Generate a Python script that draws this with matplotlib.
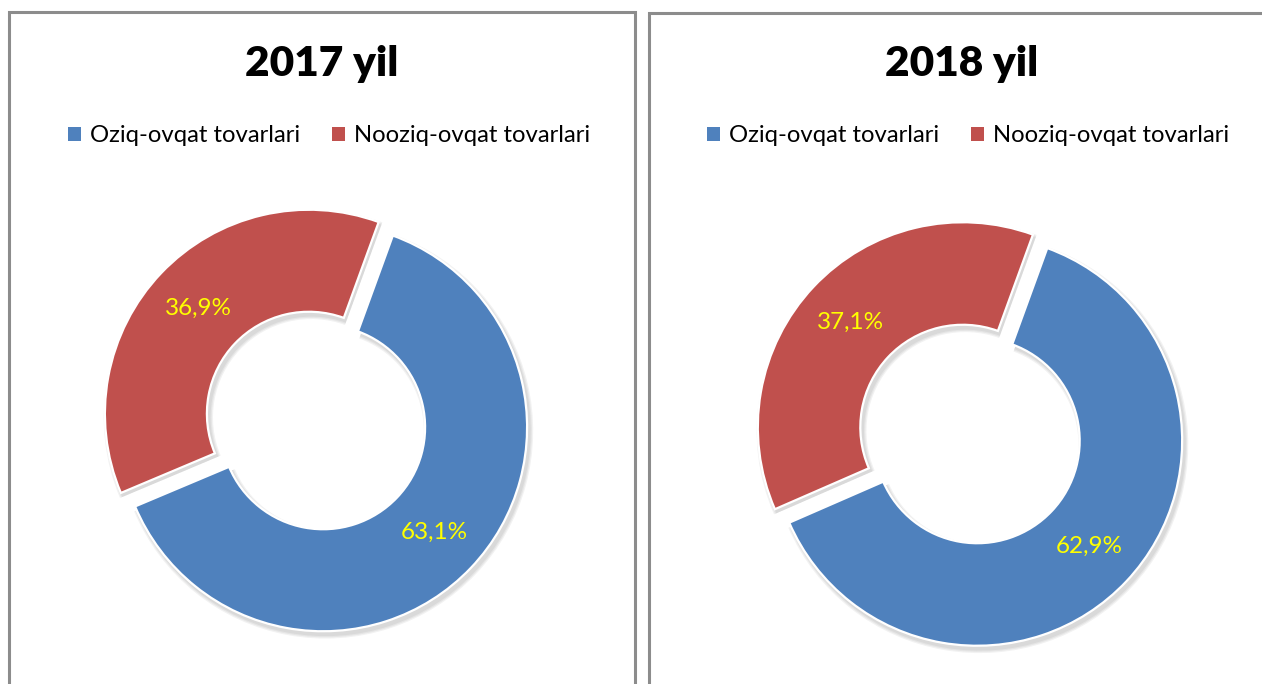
import matplotlib
matplotlib.use("Agg")
import matplotlib.pyplot as plt
from matplotlib.patches import Rectangle, Patch

# ---- data ----
years = ["2017 yil", "2018 yil"]
categories = ["Oziq-ovqat tovarlari", "Nooziq-ovqat tovarlari"]
values_2017 = [63.1, 36.9]
values_2018 = [62.9, 37.1]
colors = ["#4F81BD", "#C0504D"]

W, H = 1262, 684
fig = plt.figure(figsize=(W / 100, H / 100), dpi=100)
fig.patch.set_facecolor("white")
FONT = "Lato"


def fx(x):
    return x / W


def fy(y):
    return 1 - y / H


# panel borders
for (x0, y0, x1) in [(9, 12, 635), (649, 13, 1300)]:
    fig.patches.append(Rectangle((fx(x0), fy(760)), fx(x1 - x0), (760 - y0) / H,
                                 transform=fig.transFigure, fill=False,
                                 edgecolor="#8C8C8C", linewidth=2.2, zorder=0))

panels = [
    dict(title=years[0], vals=values_2017, cx=316, cy=420.5, R=204, tcx=322, lcx=329),
    dict(title=years[1], vals=values_2018, cx=970, cy=434, R=205, tcx=962, lcx=968),
]

for p in panels:
    half = 1.3 * p["R"]
    ax = fig.add_axes([fx(p["cx"] - half), fy(p["cy"] + half), 2 * half / W, 2 * half / H])
    # soft shadow
    for k, a in enumerate([0.05, 0.05, 0.05]):
        ax.pie(p["vals"], radius=1.0 + 0.006 * (k + 1), startangle=70, counterclock=False,
               explode=[0.048, 0.048], center=(0.012, -0.018),
               colors=["#000000", "#000000"],
               wedgeprops=dict(width=0.5 + 0.012 * (k + 1), linewidth=0, alpha=a))
    wedges, texts, autotexts = ax.pie(
        p["vals"], radius=1.0, startangle=70, counterclock=False,
        explode=[0.048, 0.048], colors=colors,
        autopct=lambda v: f"{v:.1f}%".replace(".", ","), pctdistance=0.75,
        wedgeprops=dict(width=0.5, edgecolor="white", linewidth=1.6),
        textprops=dict(color="#FFFF00", fontsize=17.5, family=FONT))
    ax.set_xlim(-1.3, 1.3)
    ax.set_ylim(-1.3, 1.3)
    ax.set_aspect("auto")
    ax.axis("off")

    fig.text(fx(p["tcx"]), fy(76), p["title"], ha="center", va="baseline",
             fontsize=30.5, fontweight="heavy", family=FONT, color="black")

    handles = [Patch(facecolor=c, edgecolor="none") for c in colors]
    fig.legend(handles, categories, loc="center", bbox_to_anchor=(fx(p["lcx"]), fy(136)),
               ncol=2, frameon=False, prop=dict(family=FONT, size=17.2),
               handlelength=0.55, handleheight=0.55, handletextpad=0.35,
               columnspacing=1.35, borderaxespad=0)

fig.savefig("out.png", dpi=100)
